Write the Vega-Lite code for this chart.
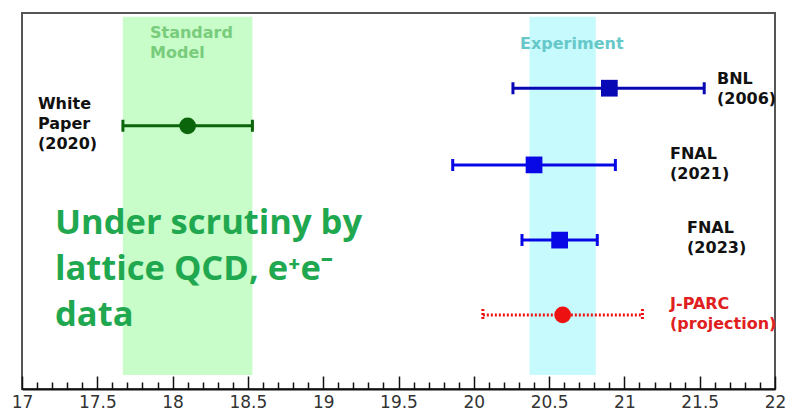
{
  "$schema": "https://vega.github.io/schema/vega-lite/v6.json",
  "width": 753,
  "height": 376,
  "autosize": "none",
  "padding": {"left": 22, "top": 13, "right": 13, "bottom": 23},
  "background": "white",
  "config": {
    "view": {"stroke": "#555555", "strokeWidth": 2},
    "font": "DejaVu Sans",
    "axis": {"labelOverlap": false}
  },
  "resolve": {"axis": {"x": "independent"}},
  "datasets": {
    "bands": [
      {"band": "Standard Model", "lo": 17.67, "hi": 18.53, "top": 0.1, "bottom": 9.63},
      {"band": "Experiment", "lo": 20.37, "hi": 20.81, "top": 0.1, "bottom": 9.63}
    ],
    "meas": [
      {"name": "White Paper (2020)", "val": 18.10, "lo": 17.67, "hi": 18.53, "pos": 3.0},
      {"name": "BNL (2006)", "val": 20.90, "lo": 20.26, "hi": 21.53, "pos": 2.0},
      {"name": "FNAL (2021)", "val": 20.40, "lo": 19.86, "hi": 20.94, "pos": 4.04},
      {"name": "FNAL (2023)", "val": 20.57, "lo": 20.32, "hi": 20.82, "pos": 6.04},
      {"name": "J-PARC (projection)", "val": 20.59, "lo": 20.06, "hi": 21.12, "pos": 8.03}
    ],
    "labels": [
      {"text": ["White", "Paper", "(2020)"], "x": 17.106, "y": 2.42},
      {"text": ["BNL", "(2006)"], "x": 21.615, "y": 1.75},
      {"text": ["FNAL", "(2021)"], "x": 21.303, "y": 3.75},
      {"text": ["FNAL", "(2023)"], "x": 21.416, "y": 5.72}
    ]
  },
  "layer": [
    {
      "data": {"name": "bands"},
      "transform": [{"filter": "datum.band === 'Standard Model'"}],
      "mark": {"type": "rect", "color": "#c8fcc8"},
      "encoding": {
        "x": {"field": "lo", "type": "quantitative",
          "scale": {"domain": [17, 22], "nice": false, "zero": false},
          "axis": {
            "title": null,
            "orient": "bottom",
            "values": [17, 17.5, 18, 18.5, 19, 19.5, 20, 20.5, 21, 21.5, 22],
            "format": "~g",
            "tickSize": -13,
            "tickColor": "#111111",
            "tickWidth": 1.5,
            "domainColor": "#111111",
            "domainWidth": 2,
            "labelFontSize": 17,
            "labelColor": "#333333",
            "labelPadding": 18,
            "labelFlush": false,
            "labelOverlap": false,
            "labelBound": false,
            "grid": false
          }
        },
        "x2": {"field": "hi"},
        "y": {"field": "top", "type": "quantitative",
          "scale": {"domain": [0, 10], "nice": false, "zero": false, "reverse": true},
          "axis": null},
        "y2": {"field": "bottom"}
      }
    },
    {
      "data": {"name": "bands"},
      "transform": [{"filter": "datum.band === 'Experiment'"}],
      "mark": {"type": "rect", "color": "#c6fafc"},
      "encoding": {
        "x": {"field": "lo", "type": "quantitative",
          "axis": {
            "title": null,
            "orient": "bottom",
            "values": [17.1,17.2,17.3,17.4,17.6,17.7,17.8,17.9,18.1,18.2,18.3,18.4,18.6,18.7,18.8,18.9,19.1,19.2,19.3,19.4,19.6,19.7,19.8,19.9,20.1,20.2,20.3,20.4,20.6,20.7,20.8,20.9,21.1,21.2,21.3,21.4,21.6,21.7,21.8,21.9],
            "tickSize": -7,
            "tickColor": "#111111",
            "tickWidth": 1.5,
            "labels": false,
            "domain": false,
            "grid": false
          }
        },
        "x2": {"field": "hi"},
        "y": {"field": "top", "type": "quantitative"},
        "y2": {"field": "bottom"}
      }
    },
    {
      "data": {"name": "meas"},
      "mark": {"type": "rule", "strokeWidth": 3},
      "encoding": {
        "x": {"field": "lo", "type": "quantitative", "axis": null},
        "x2": {"field": "hi"},
        "y": {"field": "pos", "type": "quantitative"},
        "color": {"field": "name", "type": "nominal",
          "scale": {"domain": ["White Paper (2020)", "BNL (2006)", "FNAL (2021)", "FNAL (2023)", "J-PARC (projection)"],
                    "range": ["#0b650b", "#0808b4", "#0808e6", "#0808e6", "#ee1111"]},
          "legend": null},
        "strokeDash": {"field": "name", "type": "nominal",
          "scale": {"domain": ["White Paper (2020)", "BNL (2006)", "FNAL (2021)", "FNAL (2023)", "J-PARC (projection)"],
                    "range": [[1, 0], [1, 0], [1, 0], [1, 0], [2, 2]]},
          "legend": null}
      }
    },
    {
      "data": {"name": "meas"},
      "mark": {"type": "rule", "strokeWidth": 3, "yOffset": -6, "y2Offset": 6},
      "encoding": {
        "x": {"field": "lo", "type": "quantitative", "axis": null},
        "y": {"field": "pos", "type": "quantitative"},
        "y2": {"field": "pos"},
        "color": {"field": "name", "type": "nominal", "legend": null},
        "strokeDash": {"field": "name", "type": "nominal", "legend": null}
      }
    },
    {
      "data": {"name": "meas"},
      "mark": {"type": "rule", "strokeWidth": 3, "yOffset": -6, "y2Offset": 6},
      "encoding": {
        "x": {"field": "hi", "type": "quantitative", "axis": null},
        "y": {"field": "pos", "type": "quantitative"},
        "y2": {"field": "pos"},
        "color": {"field": "name", "type": "nominal", "legend": null},
        "strokeDash": {"field": "name", "type": "nominal", "legend": null}
      }
    },
    {
      "data": {"name": "meas"},
      "mark": {"type": "point", "filled": true, "opacity": 1, "size": 280},
      "encoding": {
        "x": {"field": "val", "type": "quantitative", "axis": null},
        "y": {"field": "pos", "type": "quantitative"},
        "color": {"field": "name", "type": "nominal", "legend": null},
        "shape": {"field": "name", "type": "nominal",
          "scale": {"domain": ["White Paper (2020)", "BNL (2006)", "FNAL (2021)", "FNAL (2023)", "J-PARC (projection)"],
                    "range": ["circle", "square", "square", "square", "circle"]},
          "legend": null}
      }
    },
    {
      "data": {"name": "labels"},
      "mark": {"type": "text", "align": "left", "baseline": "middle", "fontSize": 16, "fontWeight": "bold", "lineHeight": 20, "color": "#111111"},
      "encoding": {
        "x": {"field": "x", "type": "quantitative", "axis": null},
        "y": {"field": "y", "type": "quantitative"},
        "text": {"field": "text"}
      }
    },
    {
      "data": {"values": [{"text": ["J-PARC", "(projection)"], "x": 21.303, "y": 7.74}]},
      "mark": {"type": "text", "align": "left", "baseline": "middle", "fontSize": 16, "fontWeight": "bold", "lineHeight": 20, "color": "#e02020"},
      "encoding": {
        "x": {"field": "x", "type": "quantitative", "axis": null},
        "y": {"field": "y", "type": "quantitative"},
        "text": {"field": "text"}
      }
    },
    {
      "data": {"values": [{"text": ["Standard", "Model"], "x": 17.85, "y": 0.52}]},
      "mark": {"type": "text", "align": "left", "baseline": "middle", "fontSize": 16, "fontWeight": "bold", "lineHeight": 20, "color": "#78cc7c"},
      "encoding": {
        "x": {"field": "x", "type": "quantitative", "axis": null},
        "y": {"field": "y", "type": "quantitative"},
        "text": {"field": "text"}
      }
    },
    {
      "data": {"values": [{"text": "Experiment", "x": 20.307, "y": 0.82}]},
      "mark": {"type": "text", "align": "left", "baseline": "middle", "fontSize": 16, "fontWeight": "bold", "color": "#66c8c8"},
      "encoding": {
        "x": {"field": "x", "type": "quantitative", "axis": null},
        "y": {"field": "y", "type": "quantitative"},
        "text": {"field": "text"}
      }
    },
    {
      "data": {"values": [{"text": ["Under scrutiny by", "lattice QCD, e⁺e⁻", "data"], "x": 17.219, "y": 5.6}]},
      "mark": {"type": "text", "align": "left", "baseline": "middle", "font": "Open Sans", "fontSize": 34.5, "fontWeight": "bold", "lineHeight": 46, "color": "#1fa84f"},
      "encoding": {
        "x": {"field": "x", "type": "quantitative", "axis": null},
        "y": {"field": "y", "type": "quantitative"},
        "text": {"field": "text"}
      }
    }
  ]
}
